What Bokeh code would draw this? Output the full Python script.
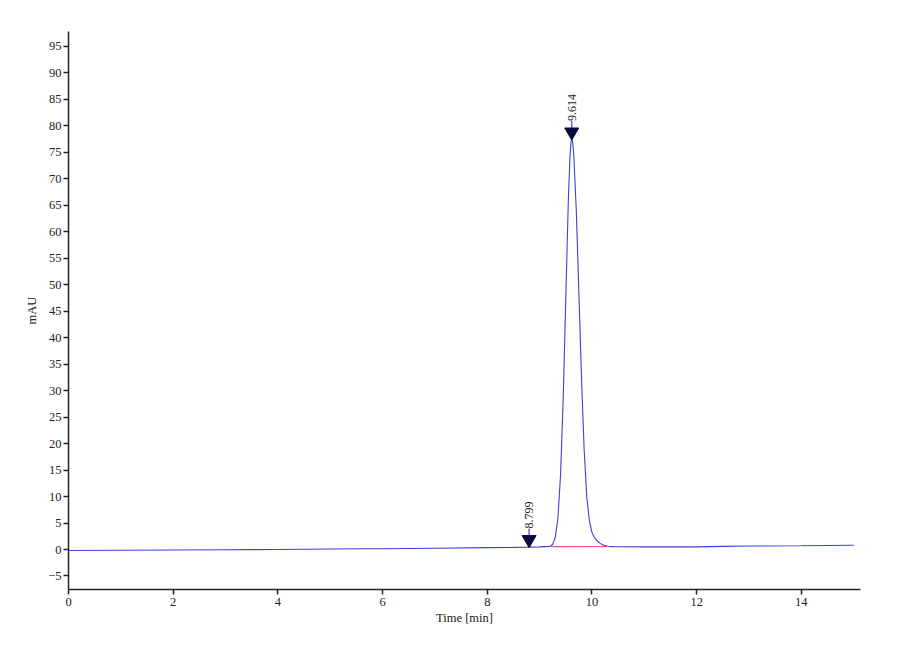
import math
from bokeh.plotting import figure
from bokeh.models import Range1d, FixedTicker, ColumnDataSource
from bokeh.core.properties import value
from bokeh.embed import file_html
from bokeh.resources import INLINE

# ---- data ----
time = [0, 1, 2, 3, 4, 5, 5.6, 6, 7, 8, 8.5, 8.799, 9.0, 9.2, 9.25, 9.30, 9.35,
        9.40, 9.45, 9.50, 9.55, 9.58, 9.60, 9.614, 9.63, 9.65, 9.70, 9.75, 9.80,
        9.85, 9.90, 9.95, 10.00, 10.05, 10.10, 10.15, 10.20, 10.30, 10.40, 11,
        12, 12.5, 13, 14, 15]
signal = [-0.2, -0.15, -0.1, -0.05, 0.0, 0.1, 0.15, 0.15, 0.25, 0.35, 0.4, 0.45,
          0.5, 0.6, 1.0, 2.3, 6.0, 14.1, 28.3, 47.5, 66.4, 74.2, 76.9, 77.5,
          77.0, 75.0, 64.2, 48.5, 32.4, 19.1, 10.0, 5.5, 3.2, 2.2, 1.6, 1.2, 0.9,
          0.6, 0.55, 0.5, 0.5, 0.6, 0.65, 0.7, 0.8]

integ_t = [9.22, 10.32]
integ_y = [0.55, 0.58]

peak_times = [8.799, 9.614]
peak_heights = [0.55, 77.5]
peak_labels = ["8.799", "9.614"]

x_ticks = [0, 2, 4, 6, 8, 10, 12, 14]
y_ticks = [-5, 0, 5, 10, 15, 20, 25, 30, 35, 40, 45, 50, 55, 60, 65, 70, 75, 80, 85, 90, 95]

# ---- layout ----
Y0, Y1 = -7.55, 97.8
X0, X1 = 0, 15.13
FRAME_H = 558
px_per_unit = FRAME_H / (Y1 - Y0)

FONT = "Liberation Serif"

p = figure(width=890, height=639, output_backend="svg", toolbar_location=None,
           x_range=Range1d(X0, X1), y_range=Range1d(Y0, Y1),
           min_border_left=68, min_border_right=30, min_border_top=31,
           min_border_bottom=50)
p.outline_line_color = None
p.xgrid.visible = False
p.ygrid.visible = False
p.background_fill_color = "white"

for ax in (p.xaxis[0], p.yaxis[0]):
    ax.axis_line_color = "#222222"
    ax.axis_line_width = 1.5
    ax.major_tick_line_color = "#222222"
    ax.major_tick_line_width = 1.5
    ax.major_tick_out = 5
    ax.major_tick_in = 0
    ax.minor_tick_line_color = None
    ax.major_label_text_font = FONT
    ax.major_label_text_font_size = "12.5px"
    ax.major_label_text_color = "#222222"
    ax.axis_label_text_font = FONT
    ax.axis_label_text_font_size = "12.5px"
    ax.axis_label_text_font_style = "normal"
    ax.axis_label_text_color = "#222222"

p.xaxis.ticker = FixedTicker(ticks=x_ticks)
p.yaxis.ticker = FixedTicker(ticks=y_ticks)
p.xaxis.axis_label = "Time [min]"
p.yaxis.axis_label = "mAU"
p.xaxis.axis_label_standoff = 2
p.yaxis.axis_label_standoff = 6
p.yaxis.major_label_standoff = 2
p.xaxis.major_label_standoff = 3

# chromatogram trace
p.line(time, signal, line_color="#4040d4", line_width=1.1)
# integration baseline
p.line(integ_t, integ_y, line_color="#ff4f8f", line_width=1.1)

# peak markers
tri_size = 14
tri_center = [h + (tri_size / 2) / px_per_unit for h in peak_heights]
stem_top = [h + (tri_size + 4) / px_per_unit for h in peak_heights]
src = ColumnDataSource(dict(t=peak_times, h=peak_heights, c=tri_center,
                            s=stem_top, lab=peak_labels))
p.segment(x0="t", y0="h", x1="t", y1="s", source=src, line_color="#4040d4",
          line_width=1.2)
p.scatter(x="t", y="c", source=src, marker="inverted_triangle", size=tri_size,
          fill_color="#0a0a3a", line_color="#0a0a3a")
p.text(x="t", y="s", text="lab", source=src, angle=math.pi / 2,
       text_align="left", text_baseline="middle", y_offset=0,
       text_font=value(FONT), text_font_size="12px", text_color="#222222")

open("out.html", "w").write(file_html(p, INLINE))
